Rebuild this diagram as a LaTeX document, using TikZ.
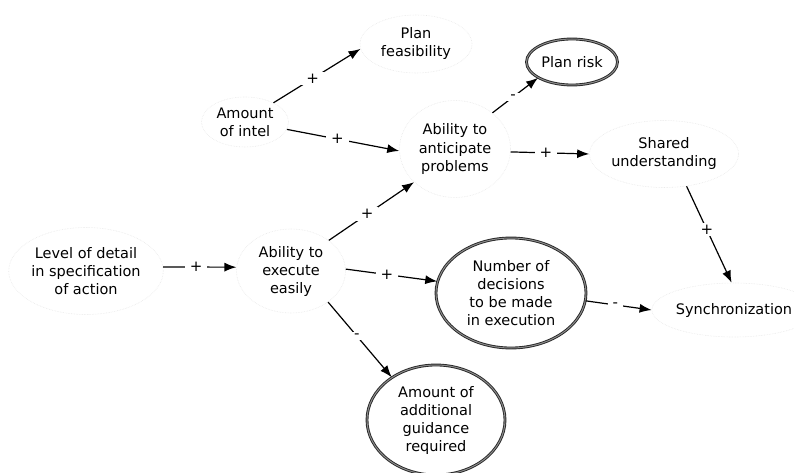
\documentclass[tikz,border=0pt]{standalone}
\usepackage{fontspec}
\setmainfont{DejaVu Sans}
\usetikzlibrary{shapes.geometric,arrows.meta}
\begin{document}
\begin{tikzpicture}[x=1pt,y=-1pt,
var/.style={ellipse,draw=black!9,densely dotted,line width=0.6pt,align=center,inner sep=0pt,font=\fontsize{14.5}{18}\selectfont,text=black},
key/.style={var,draw=black!85,solid,line width=0.9pt,double=black!45,double distance=1pt},
link/.style={-{Latex[length=12pt,width=9pt]},line width=1.2pt,black},
sign/.style={fill=white,inner xsep=5pt,inner ysep=2pt,font=\fontsize{15}{15}\selectfont,pos=0.45}
]
\useasboundingbox (0,0) rectangle (794,473);
\fill[white] (0,0) rectangle (794,473);
\node[var,minimum width=112pt,minimum height=58pt] (feas) at (416,44) {Plan\\feasibility};
\node[key,minimum width=91pt,minimum height=46pt] (risk) at (572,62) {Plan risk};
\node[var,minimum width=87pt,minimum height=50pt] (intel) at (245,122) {Amount\\of intel};
\node[var,minimum width=111pt,minimum height=97pt] (antic) at (455,149) {Ability to\\anticipate\\problems};
\node[var,minimum width=137pt,minimum height=67pt] (shared) at (664,154) {Shared\\understanding};
\node[var,minimum width=152pt,minimum height=87pt] (level) at (86,271) {Level of detail\\in specification\\of action};
\node[var,minimum width=109pt,minimum height=84pt] (exec) at (291,271) {Ability to\\execute\\easily};
\node[key,minimum width=150pt,minimum height=110pt] (num) at (511,293) {Number of\\decisions\\to be made\\in execution};
\node[var,minimum width=140pt,minimum height=54pt] (sync) at (734,310) {Synchronization};
\node[key,minimum width=138pt,minimum height=110pt] (guid) at (436,420) {Amount of\\additional\\guidance\\required};
% causal links
\draw[link] (intel.34) -- node[sign]{+} (feas.185);
\draw[link] (intel.-10) -- node[sign]{+} (antic.182);
\draw[link] (antic.44) -- node[sign]{-} (risk.205);
\draw[link] (antic.-3) -- node[sign]{+} (shared.180);
\draw[link] (shared.-55) -- node[sign]{+} (sync.95);
\draw[link] (level.3) -- node[sign]{+} (exec.176);
\draw[link] (exec.39) -- node[sign]{+} (antic.219);
\draw[link] (exec.2) -- node[sign]{+} (num.171);
\draw[link] (num.-6) -- node[sign]{-} (sync.180);
\draw[link] (exec.-40) -- node[sign]{-} (guid.136);
\end{tikzpicture}
\end{document}
